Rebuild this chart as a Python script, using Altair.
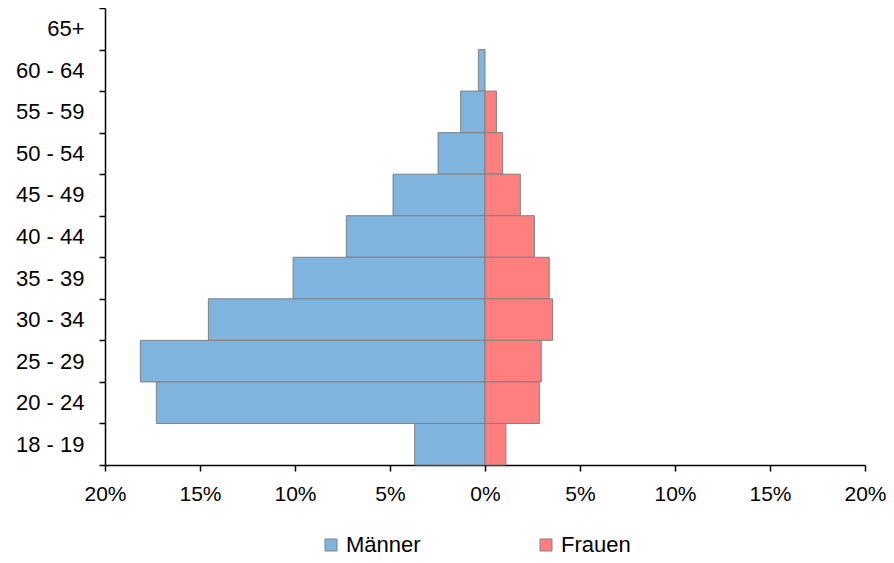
import altair as alt
import pandas as pd

ages = ["65+", "60 - 64", "55 - 59", "50 - 54", "45 - 49", "40 - 44",
        "35 - 39", "30 - 34", "25 - 29", "20 - 24", "18 - 19"]
men = [0, 0.35, 1.28, 2.47, 4.84, 7.3, 10.1, 14.56, 18.14, 17.3, 3.7]
women = [0, 0, 0.6, 0.93, 1.86, 2.6, 3.38, 3.56, 2.96, 2.86, 1.1]
groups = ["Männer", "Frauen"]
colors = ["#7EB4DD", "#FF7F7F"]
x_ticks = [-20, -15, -10, -5, 0, 5, 10, 15, 20]

rows = []
for a, m, w in zip(ages, men, women):
    rows.append({"age": a, "sex": groups[0], "value": -m})
    rows.append({"age": a, "sex": groups[1], "value": w})
df = pd.DataFrame(rows)

font = "Liberation Sans"
fs = 22

chart = alt.Chart(df).transform_filter(
    "datum.value != 0"
).mark_bar(stroke="#808080", strokeWidth=1).encode(
    y=alt.Y("age:N", sort=ages,
            scale=alt.Scale(domain=ages, paddingInner=0, paddingOuter=0),
            axis=alt.Axis(title=None, labelFontSize=fs, labelFont=font, labelColor="black",
                          tickSize=6, tickColor="black", tickWidth=1.5,
                          domainColor="black", domainWidth=1.5,
                          labelPadding=15, tickBand="extent", grid=False)),
    x=alt.X("value:Q",
            scale=alt.Scale(domain=[-20, 20], nice=False),
            axis=alt.Axis(title=None, values=x_ticks,
                          labelExpr="abs(datum.value) + '%'",
                          labelFontSize=21, labelFont=font, labelColor="black",
                          labelFlush=False, labelOverlap=False,
                          tickSize=6, tickColor="black", tickWidth=1.5,
                          domainColor="black", domainWidth=1.5,
                          labelPadding=12, grid=False)),
    color=alt.Color("sex:N",
                    scale=alt.Scale(domain=groups, range=colors),
                    legend=alt.Legend(title=None, orient="none", legendX=215, legendY=526,
                                      direction="horizontal", symbolType="square",
                                      symbolSize=144, symbolStrokeColor="#808080",
                                      symbolStrokeWidth=1, labelFontSize=fs,
                                      labelFont=font, labelColor="black",
                                      labelOffset=4, columnPadding=114, padding=0)),
).properties(
    width=760, height=457,
    autosize=alt.AutoSizeParams(type="none"),
    padding={"left": 97, "top": 0, "right": 21, "bottom": 91},
).configure_view(stroke=None)

chart.save("out.html", embed_options={"renderer": "svg", "actions": False})
